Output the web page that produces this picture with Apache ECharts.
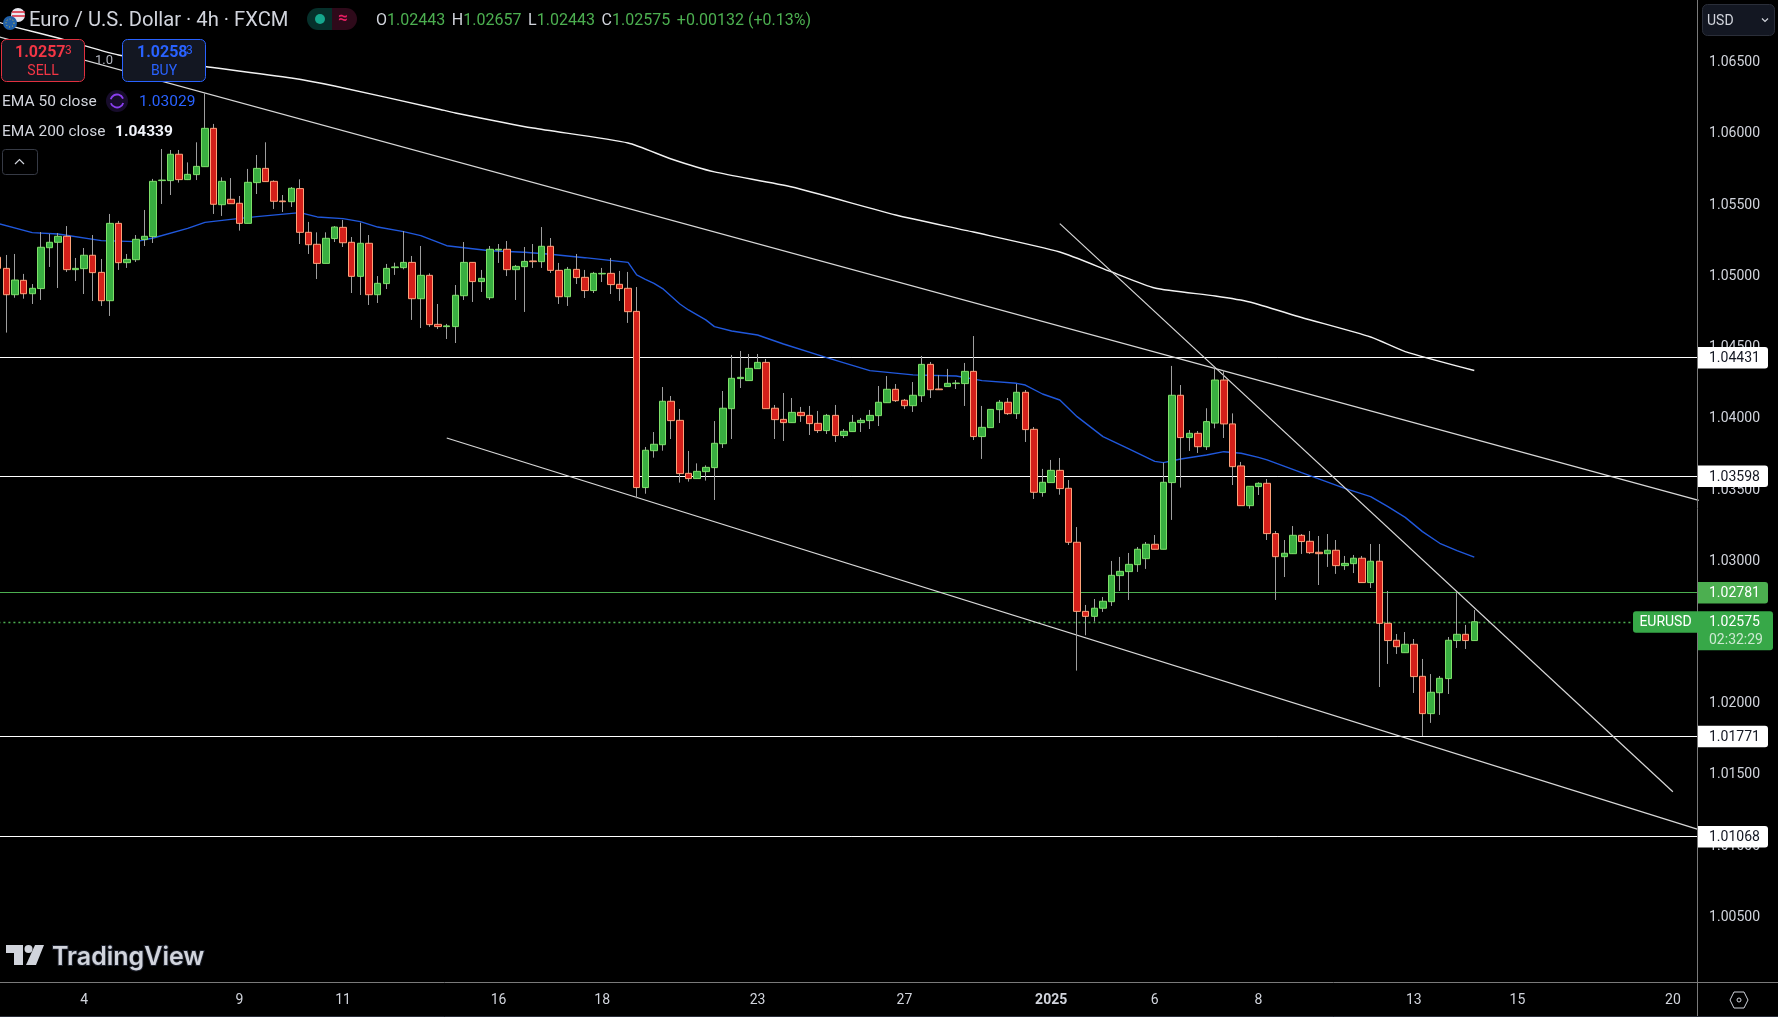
<!DOCTYPE html>
<html>
<head>
<meta charset="utf-8">
<title>EURUSD 4h</title>
<script src="https://cdn.jsdelivr.net/npm/echarts@6/dist/echarts.min.js"></script>
<style>
	html, body { margin: 0; padding: 0; background: #000; }
	#main { width: 1778px; height: 1017px; }
</style>
</head>
<body>
<div id="main"></div>
<script>
// one row = ten 4h bars, first bar is cut by the left edge
var opens = [
	1.05134, 1.05056, 1.04871, 1.04972, 1.04878, 1.04914, 1.05201, 1.05239, 1.05281, 1.05047,
	1.05054, 1.05148, 1.05028, 1.04829, 1.05372, 1.05096, 1.05117, 1.05258, 1.05279, 1.05672,
	1.05672, 1.05857, 1.05679, 1.05714, 1.05770, 1.06039, 1.05503, 1.05541, 1.05513, 1.05372,
	1.05658, 1.05758, 1.05667, 1.05529, 1.05524, 1.05616, 1.05309, 1.05225, 1.05091, 1.05265,
	1.05344, 1.05239, 1.05000, 1.05232, 1.04871, 1.04949, 1.05061, 1.05061, 1.05098, 1.04843,
	1.05007, 1.04663, 1.04647, 1.04647, 1.04864, 1.05098, 1.04963, 1.04850, 1.05185, 1.05190,
	1.05047, 1.05068, 1.05108, 1.05103, 1.05211, 1.05042, 1.04857, 1.05049, 1.04993, 1.04900,
	1.05017, 1.05021, 1.04944, 1.04916, 1.04754, 1.03517, 1.03776, 1.03818, 1.04123, 1.03989,
	1.03617, 1.03580, 1.03629, 1.03657, 1.03825, 1.04071, 1.04282, 1.04268, 1.04352, 1.04396,
	1.04074, 1.03996, 1.03973, 1.04045, 1.04024, 1.03968, 1.03917, 1.04024, 1.03882, 1.03910,
	1.03973, 1.03987, 1.04022, 1.04113, 1.04207, 1.04130, 1.04092, 1.04162, 1.04382, 1.04209,
	1.04226, 1.04247, 1.04247, 1.04333, 1.03875, 1.03938, 1.04064, 1.04116, 1.04036, 1.04186,
	1.03926, 1.03482, 1.03552, 1.03638, 1.03512, 1.03133, 1.02648, 1.02613, 1.02670, 1.02716,
	1.02899, 1.02927, 1.02976, 1.03018, 1.03119, 1.03084, 1.03552, 1.04165, 1.03868, 1.03898,
	1.03804, 1.03970, 1.04272, 1.03964, 1.03669, 1.03390, 1.03524, 1.03547, 1.03194, 1.03032,
	1.03053, 1.03182, 1.03140, 1.03063, 1.03053, 1.03077, 1.02969, 1.02983, 1.03021, 1.02850,
	1.03000, 1.02564, 1.02445, 1.02358, 1.02417, 1.02192, 1.01930, 1.02077, 1.02176, 1.02443,
	1.02487, 1.02443
];
var highs = [
	1.05162, 1.05150, 1.05157, 1.05017, 1.04946, 1.05311, 1.05297, 1.05304, 1.05353, 1.05129,
	1.05199, 1.05290, 1.05122, 1.05438, 1.05389, 1.05157, 1.05290, 1.05466, 1.05684, 1.05894,
	1.05887, 1.05887, 1.05800, 1.05941, 1.06285, 1.06070, 1.05695, 1.05690, 1.05564, 1.05754,
	1.05852, 1.05941, 1.05674, 1.05571, 1.05627, 1.05681, 1.05382, 1.05309, 1.05309, 1.05353,
	1.05396, 1.05276, 1.05377, 1.05290, 1.05002, 1.05087, 1.05096, 1.05318, 1.05143, 1.05213,
	1.05021, 1.04806, 1.04666, 1.04939, 1.05241, 1.05098, 1.05045, 1.05213, 1.05227, 1.05248,
	1.05080, 1.05206, 1.05227, 1.05346, 1.05269, 1.05094, 1.05066, 1.05157, 1.05045, 1.05031,
	1.05059, 1.05129, 1.05038, 1.05031, 1.04925, 1.03802, 1.03907, 1.04223, 1.04160, 1.04069,
	1.03774, 1.03687, 1.03673, 1.03984, 1.04195, 1.04448, 1.04476, 1.04455, 1.04455, 1.04420,
	1.04097, 1.04181, 1.04146, 1.04083, 1.04090, 1.04055, 1.04034, 1.04097, 1.03928, 1.04027,
	1.04006, 1.04062, 1.04230, 1.04300, 1.04244, 1.04139, 1.04258, 1.04441, 1.04399, 1.04307,
	1.04350, 1.04272, 1.04392, 1.04581, 1.04090, 1.04066, 1.04132, 1.04146, 1.04244, 1.04202,
	1.03942, 1.03648, 1.03711, 1.03725, 1.03570, 1.03240, 1.02693, 1.02735, 1.02749, 1.03002,
	1.03030, 1.03058, 1.03100, 1.03135, 1.03184, 1.03692, 1.04371, 1.04237, 1.03921, 1.03914,
	1.04074, 1.04354, 1.04343, 1.04038, 1.03697, 1.03526, 1.03554, 1.03577, 1.03212, 1.03149,
	1.03247, 1.03191, 1.03212, 1.03177, 1.03191, 1.03149, 1.03037, 1.03044, 1.03037, 1.03121,
	1.03121, 1.02791, 1.02489, 1.02503, 1.02454, 1.02314, 1.02208, 1.02194, 1.02468, 1.02782,
	1.02553, 1.02657
];
var lows = [
	1.05040, 1.04605, 1.04850, 1.04843, 1.04806, 1.04834, 1.05066, 1.04918, 1.05031, 1.04967,
	1.04876, 1.04827, 1.04792, 1.04722, 1.05045, 1.05059, 1.05101, 1.05213, 1.05234, 1.05508,
	1.05571, 1.05658, 1.05676, 1.05676, 1.05770, 1.05438, 1.05424, 1.05510, 1.05321, 1.05372,
	1.05578, 1.05665, 1.05473, 1.05452, 1.05487, 1.05227, 1.05157, 1.04981, 1.05091, 1.05241,
	1.05206, 1.04883, 1.04869, 1.04799, 1.04813, 1.04911, 1.05010, 1.05049, 1.04694, 1.04637,
	1.04645, 1.04630, 1.04560, 1.04532, 1.04834, 1.04820, 1.04890, 1.04834, 1.05094, 1.05002,
	1.04834, 1.04750, 1.05059, 1.05059, 1.05024, 1.04806, 1.04792, 1.04946, 1.04848, 1.04883,
	1.04960, 1.04876, 1.04827, 1.04673, 1.03442, 1.03474, 1.03727, 1.03776, 1.03858, 1.03552,
	1.03559, 1.03580, 1.03566, 1.03430, 1.03795, 1.03858, 1.04216, 1.04268, 1.04352, 1.04071,
	1.03858, 1.03844, 1.03973, 1.03978, 1.03886, 1.03900, 1.03893, 1.03837, 1.03865, 1.03910,
	1.03907, 1.03928, 1.03949, 1.04113, 1.04118, 1.04069, 1.04048, 1.04118, 1.04146, 1.04204,
	1.04226, 1.04209, 1.04090, 1.03851, 1.03718, 1.03938, 1.03970, 1.04027, 1.03999, 1.03837,
	1.03437, 1.03453, 1.03552, 1.03467, 1.03114, 1.02232, 1.02480, 1.02576, 1.02644, 1.02686,
	1.02791, 1.02728, 1.02925, 1.02946, 1.03084, 1.03084, 1.03290, 1.03517, 1.03774, 1.03760,
	1.03781, 1.03933, 1.03865, 1.03535, 1.03390, 1.03369, 1.03465, 1.03149, 1.02728, 1.02889,
	1.03053, 1.03051, 1.03051, 1.02833, 1.02960, 1.02911, 1.02939, 1.02917, 1.02850, 1.02812,
	1.02117, 1.02279, 1.02349, 1.02358, 1.02075, 1.01773, 1.01865, 1.01921, 1.02068, 1.02391,
	1.02384, 1.02443
];
var closes = [
	1.05056, 1.04871, 1.04974, 1.04878, 1.04916, 1.05204, 1.05239, 1.05281, 1.05047, 1.05056,
	1.05148, 1.05026, 1.04829, 1.05372, 1.05096, 1.05119, 1.05260, 1.05281, 1.05667, 1.05676,
	1.05857, 1.05679, 1.05716, 1.05772, 1.06039, 1.05506, 1.05667, 1.05510, 1.05372, 1.05660,
	1.05758, 1.05665, 1.05527, 1.05524, 1.05618, 1.05309, 1.05222, 1.05091, 1.05267, 1.05346,
	1.05236, 1.05000, 1.05232, 1.04871, 1.04951, 1.05056, 1.05066, 1.05098, 1.04843, 1.05007,
	1.04661, 1.04647, 1.04652, 1.04867, 1.05098, 1.04963, 1.04986, 1.05190, 1.05190, 1.05047,
	1.05070, 1.05105, 1.05103, 1.05211, 1.05042, 1.04857, 1.05049, 1.04991, 1.04900, 1.05021,
	1.05021, 1.04942, 1.04914, 1.04752, 1.03517, 1.03779, 1.03821, 1.04123, 1.03987, 1.03615,
	1.03580, 1.03631, 1.03659, 1.03828, 1.04074, 1.04284, 1.04291, 1.04354, 1.04396, 1.04071,
	1.03994, 1.03973, 1.04045, 1.04022, 1.03966, 1.03917, 1.04024, 1.03882, 1.03912, 1.03975,
	1.03989, 1.04024, 1.04116, 1.04207, 1.04127, 1.04092, 1.04165, 1.04382, 1.04204, 1.04204,
	1.04249, 1.04251, 1.04333, 1.03875, 1.03940, 1.04066, 1.04116, 1.04036, 1.04186, 1.03924,
	1.03484, 1.03554, 1.03638, 1.03510, 1.03133, 1.02648, 1.02613, 1.02670, 1.02719, 1.02901,
	1.02929, 1.02978, 1.03084, 1.03119, 1.03084, 1.03554, 1.04165, 1.03868, 1.03898, 1.03804,
	1.03980, 1.04272, 1.03964, 1.03664, 1.03390, 1.03526, 1.03547, 1.03194, 1.03032, 1.03056,
	1.03182, 1.03138, 1.03060, 1.03053, 1.03077, 1.02969, 1.02985, 1.03021, 1.02850, 1.03000,
	1.02564, 1.02443, 1.02400, 1.02417, 1.02190, 1.01930, 1.02080, 1.02178, 1.02445, 1.02487,
	1.02443, 1.02575
];

// [bar, price], read at the bends of each curve
var ema50 = [
	[0, 1.05372], [4, 1.05307], [7, 1.05297], [12, 1.05251], [16, 1.05244], [18, 1.05269], [22, 1.05337],
	[24, 1.05379], [27, 1.05400], [30, 1.05419], [35, 1.05447], [37, 1.05417], [40, 1.05405], [42, 1.05384],
	[44, 1.05346], [47, 1.05314], [49, 1.05286], [52, 1.05215], [57, 1.05180], [61, 1.05169], [64, 1.05155],
	[68, 1.05131], [73, 1.05098], [74, 1.05010], [75, 1.04979], [76, 1.04951], [77, 1.04914], [79, 1.04806],
	[80, 1.04764], [81, 1.04729], [82, 1.04694], [83, 1.04647], [85, 1.04616], [88, 1.04588], [91, 1.04525],
	[96, 1.04429], [101, 1.04338], [106, 1.04308], [111, 1.04300], [114, 1.04268], [118, 1.04249], [119, 1.04237],
	[121, 1.04174], [123, 1.04132], [125, 1.04015], [128, 1.03875], [131, 1.03788], [134, 1.03701], [135, 1.03692],
	[137, 1.03718], [140, 1.03746], [142, 1.03769], [144, 1.03758], [146, 1.03729], [147, 1.03711], [151, 1.03622],
	[156, 1.03512], [159, 1.03453], [161, 1.03383], [163, 1.03308], [165, 1.03208], [167, 1.03126], [169, 1.03074],
	[171, 1.03029]
];
var ema200 = [
	[0, 1.06786], [2, 1.06750], [7, 1.06673], [14, 1.06554], [24, 1.06473], [34, 1.06392], [39, 1.06336],
	[51, 1.06175], [53, 1.06147], [62, 1.06041], [73, 1.05936], [78, 1.05824], [83, 1.05733], [92, 1.05627],
	[104, 1.05431], [113, 1.05311], [123, 1.05171], [129, 1.05031], [134, 1.04918], [141, 1.04862], [145, 1.04820],
	[151, 1.04711], [159, 1.04574], [163, 1.04472], [171, 1.04339]
];

// drawn trend lines, [bar, price] at both ends
var trendUpper = [[0, 1.06684], [197, 1.03427]];
var trendLower = [[52, 1.03865], [197, 1.01116]];
var trendSteep = [[123, 1.05370], [194, 1.01382]];

var whiteLevels = [1.04431, 1.03598, 1.01771, 1.01068];
var alertLevel = 1.02781;
var lastPrice = 1.02575;

var priceTicks = [1.065, 1.06, 1.055, 1.05, 1.045, 1.04, 1.035, 1.03, 1.025, 1.02, 1.015, 1.01, 1.005];
var dateTicks = [[10, '4'], [28, '9'], [40, '11'], [58, '16'], [70, '18'], [88, '23'], [105, '27'],
	[122, '2025'], [134, '6'], [146, '8'], [164, '13'], [176, '15'], [194, '20']];

var barCount = 198;
var categories = [];
for(var i = 0; i < barCount; i++) {
	categories.push('');
}
dateTicks.forEach(function(t) {
	categories[t[0]] = t[1];
});

var wicks = [], bodies = [];
for(var i = 0; i < opens.length; i++) {
	wicks.push([opens[i], closes[i], lows[i], highs[i]]);
	bodies.push([opens[i], closes[i], Math.min(opens[i], closes[i]), Math.max(opens[i], closes[i])]);
}

var UI = 'Roboto, sans-serif';

function label(text, x, y, fill, font, align) {
	return {
		type: 'text', silent: true, z: 100, x: x, y: y + 1,
		style: { text: text, fill: fill, font: font, textAlign: align || 'left', textVerticalAlign: 'middle' }
	};
}
function box(x, y, w, h, fill, stroke, r) {
	return {
		type: 'rect', silent: true, z: 99,
		shape: { x: x, y: y, width: w, height: h, r: r || 0 },
		style: { fill: fill, stroke: stroke || null, lineWidth: 1 }
	};
}
function stroke(points, color, width, z) {
	return {
		type: 'polyline', silent: true, z: z || 100,
		shape: { points: points },
		style: { stroke: color, lineWidth: width || 1, fill: null }
	};
}

var dom = document.getElementById('main');
var myChart = echarts.init(dom);

var option = {
	animation: false,
	backgroundColor: '#000',
	grid: { left: -6.6, top: 0, width: 1709.7, height: 982, containLabel: false, outerBoundsMode: 'none' },
	xAxis: {
		type: 'category',
		data: categories,
		axisLine: { show: false },
		axisTick: { show: false },
		splitLine: { show: false },
		axisLabel: {
			interval: function(idx, val) { return val !== ''; },
			hideOverlap: false,
			margin: 11,
			color: '#d1d4dc',
			fontFamily: UI,
			fontSize: 14,
			formatter: function(val) { return val === '2025' ? '{y|2025}' : val; },
			rich: { y: { fontFamily: UI, fontSize: 14, fontWeight: 'bold', color: '#d1d4dc' } }
		}
	},
	yAxis: {
		type: 'value',
		position: 'right',
		min: 1.00046,
		max: 1.0694,
		axisLine: { show: false },
		axisTick: { show: false },
		splitLine: { show: false },
		axisLabel: {
			customValues: priceTicks,
			margin: 6,
			padding: [4, 0, 0, 0],
			color: '#d1d4dc',
			fontFamily: UI,
			fontSize: 14,
			formatter: function(v) { return v.toFixed(5); }
		}
	},
	series: [{
		name: 'EMA 200',
		type: 'line',
		data: ema200,
		z: 3,
		smooth: 0.2,
		symbol: 'none',
		lineStyle: { color: '#f2f2f2', width: 1.4 }
	}, {
		name: 'EMA 50',
		type: 'line',
		data: ema50,
		z: 3,
		symbol: 'none',
		lineStyle: { color: '#2058dc', width: 1.4 },
		markLine: {
			silent: true,
			z: 1,
			precision: 5,
			symbol: 'none',
			label: { show: false },
			data: whiteLevels.map(function(v) {
				return { yAxis: v, lineStyle: { color: '#fff', width: 1, type: 'solid' } };
			}).concat([
				{ yAxis: alertLevel, lineStyle: { color: '#4caf50', width: 1, type: 'solid' } },
				{ yAxis: lastPrice, lineStyle: { color: '#4caf50', width: 1.3, type: [2, 3] } }
			])
		}
	}, {
		name: 'trend upper',
		type: 'line',
		data: trendUpper,
		z: 4,
		symbol: 'none',
		lineStyle: { color: '#d8d8d8', width: 1.2 }
	}, {
		name: 'trend lower',
		type: 'line',
		data: trendLower,
		z: 4,
		symbol: 'none',
		lineStyle: { color: '#d8d8d8', width: 1.2 }
	}, {
		name: 'trend steep',
		type: 'line',
		data: trendSteep,
		z: 4,
		symbol: 'none',
		lineStyle: { color: '#d8d8d8', width: 1.2 }
	}, {
		name: 'wick',
		type: 'candlestick',
		data: wicks,
		z: 5,
		barWidth: 1,
		itemStyle: { color: '#9e9e9e', color0: '#9e9e9e', borderColor: '#9e9e9e', borderColor0: '#9e9e9e', borderWidth: 1 }
	}, {
		name: 'EURUSD',
		type: 'candlestick',
		data: bodies,
		z: 6,
		barWidth: 7,
		itemStyle: { color: '#39ae41', color0: '#d4201a', borderColor: '#7ee06a', borderColor0: '#ffa27a', borderWidth: 1 }
	}]
};
myChart.setOption(option, true);

// tags on the price scale follow the axis
function priceY(v) {
	return myChart.convertToPixel({ yAxisIndex: 0 }, v);
}
var chrome = [
	stroke([[0, 982.5], [1778, 982.5]], '#7a7a7a', 1, 90),
	stroke([[1697.5, 0], [1697.5, 1017]], '#7a7a7a', 1, 90),
	stroke([[0, 1016.5], [1778, 1016.5]], '#2a2e39', 1, 90)
];
whiteLevels.forEach(function(v) {
	var y = priceY(v);
	chrome.push(box(1698, y - 10.5, 70, 21.5, '#fff', null, [0, 3, 3, 0]));
	chrome.push(label(v.toFixed(5), 1709, y, '#131722', '14px ' + UI));
});
var alertY = priceY(alertLevel), lastY = priceY(lastPrice);
chrome.push(box(1698, alertY - 10.5, 70, 21.5, '#4caf50', null, [0, 3, 3, 0]));
chrome.push(label(alertLevel.toFixed(5), 1709, alertY, '#fff', '14px ' + UI));
chrome.push(box(1633, lastY - 10.5, 65, 21.5, '#37a848', null, [3, 0, 0, 3]));
chrome.push(label('EURUSD', 1665.5, lastY, '#fff', '14px ' + UI, 'center'));
chrome.push(box(1698, lastY - 10.5, 75, 39, '#37a848', null, [0, 3, 3, 0]));
chrome.push(label(lastPrice.toFixed(5), 1709, lastY, '#fff', '14px ' + UI));
chrome.push(label('02:32:29', 1709, lastY + 18, 'rgba(255,255,255,0.75)', '14px ' + UI));

// header
chrome = chrome.concat([
	{ type: 'circle', silent: true, z: 100, shape: { cx: 18, cy: 15, r: 7 }, style: { fill: '#e8e8f0' } },
	stroke([[12, 12], [25, 12]], '#d9263a', 1.5),
	stroke([[12, 16], [25, 16]], '#d9263a', 1.5),
	{ type: 'circle', silent: true, z: 101, shape: { cx: 10, cy: 23, r: 7 }, style: { fill: '#1f5fa8' } },
	{ type: 'circle', silent: true, z: 102, shape: { cx: 10, cy: 23, r: 4 }, style: { fill: null, stroke: '#d8c040', lineWidth: 1, lineDash: [1, 2] } },
	label('Euro / U.S. Dollar · 4h · FXCM', 29, 20, '#d1d4dc', '20.2px ' + UI),
	box(307, 8, 25, 22, '#06302b', null, [11, 0, 0, 11]),
	box(332, 8, 25, 22, '#2e0a1a', null, [0, 11, 11, 0]),
	{ type: 'circle', silent: true, z: 100, shape: { cx: 320, cy: 19, r: 5 }, style: { fill: '#15a78d' } },
	label('≈', 343, 18, '#e91e63', 'bold 17px ' + UI, 'center'),
	{
		type: 'text', silent: true, z: 100, x: 376, y: 21,
		style: {
			text: '{k|O}{v|1.02443}  {k|H}{v|1.02657}  {k|L}{v|1.02443}  {k|C}{v|1.02575}  {v|+0.00132 (+0.13%)}',
			textVerticalAlign: 'middle',
			rich: {
				k: { fill: '#d1d4dc', font: '16px ' + UI },
				v: { fill: '#4caf50', font: '16px ' + UI }
			}
		}
	},
	box(1.5, 39.5, 83, 42, '#131722', '#e0303f', 5),
	label('1.0257', 15, 52, '#f23645', 'bold 16px ' + UI),
	label('3', 65, 50, '#f23645', '12px ' + UI),
	label('SELL', 43, 70, '#f23645', '14px ' + UI, 'center'),
	label('1.0', 104, 60, '#b2b5be', '13px ' + UI, 'center'),
	box(122.5, 39.5, 83, 42, '#131722', '#2962ff', 5),
	label('1.0258', 137, 52, '#2962ff', 'bold 16px ' + UI),
	label('3', 186, 50, '#2962ff', '12px ' + UI),
	label('BUY', 164, 70, '#2962ff', '14px ' + UI, 'center'),
	label('EMA 50 close', 2, 101, '#d1d4dc', '15.5px ' + UI),
	{ type: 'circle', silent: true, z: 99, shape: { cx: 117, cy: 101, r: 11 }, style: { fill: '#170c2b' } },
	{ type: 'arc', silent: true, z: 100, shape: { cx: 117, cy: 101, r: 6.5, startAngle: 3.4, endAngle: 5.9 }, style: { stroke: '#8a3ff0', lineWidth: 1.8, fill: null } },
	{ type: 'arc', silent: true, z: 100, shape: { cx: 117, cy: 101, r: 6.5, startAngle: 0.3, endAngle: 2.8 }, style: { stroke: '#8a3ff0', lineWidth: 1.8, fill: null } },
	label('1.03029', 139, 101, '#2962ff', '15.5px ' + UI),
	label('EMA 200 close', 2, 131, '#d1d4dc', '15.5px ' + UI),
	label('1.04339', 115, 131, '#f0f3fa', 'bold 15.5px ' + UI),
	box(2.5, 149.5, 35, 25, '#000', '#363a45', 3),
	stroke([[15, 164], [19.5, 159.5], [24, 164]], '#d1d4dc', 1.2),
	box(1702.5, 4.5, 72, 31, '#131722', '#2a2e39', 5),
	label('USD', 1707, 20, '#d1d4dc', '14px ' + UI),
	stroke([[1762, 18.5], [1765, 21.5], [1768, 18.5]], '#d1d4dc', 1.2),
	// logo
	{ type: 'polygon', silent: true, z: 100, shape: { points: [[6, 945], [23, 945], [23, 965], [14, 965], [14, 953], [6, 953]] }, style: { fill: '#d1d4dc' } },
	{ type: 'circle', silent: true, z: 100, shape: { cx: 28.5, cy: 949, r: 4 }, style: { fill: '#d1d4dc' } },
	{ type: 'polygon', silent: true, z: 100, shape: { points: [[35, 945], [44, 945], [36, 965], [26, 965]] }, style: { fill: '#d1d4dc' } },
	{
		type: 'text', silent: true, z: 100, x: 52, y: 957,
		style: { text: 'TradingView', fill: '#d1d4dc', font: '600 25px Inter, sans-serif', textVerticalAlign: 'middle', stroke: '#1e222d', lineWidth: 2 }
	},
	// settings
	{ type: 'polygon', silent: true, z: 100, shape: { points: [[1730, 1000], [1734, 992], [1744, 992], [1748, 1000], [1744, 1008], [1734, 1008]] }, style: { fill: null, stroke: '#d1d4dc', lineWidth: 1 } },
	{ type: 'circle', silent: true, z: 100, shape: { cx: 1739, cy: 1000, r: 2 }, style: { fill: null, stroke: '#d1d4dc', lineWidth: 1 } }
]);
myChart.setOption({ graphic: { elements: chrome } });
</script>
</body>
</html>
